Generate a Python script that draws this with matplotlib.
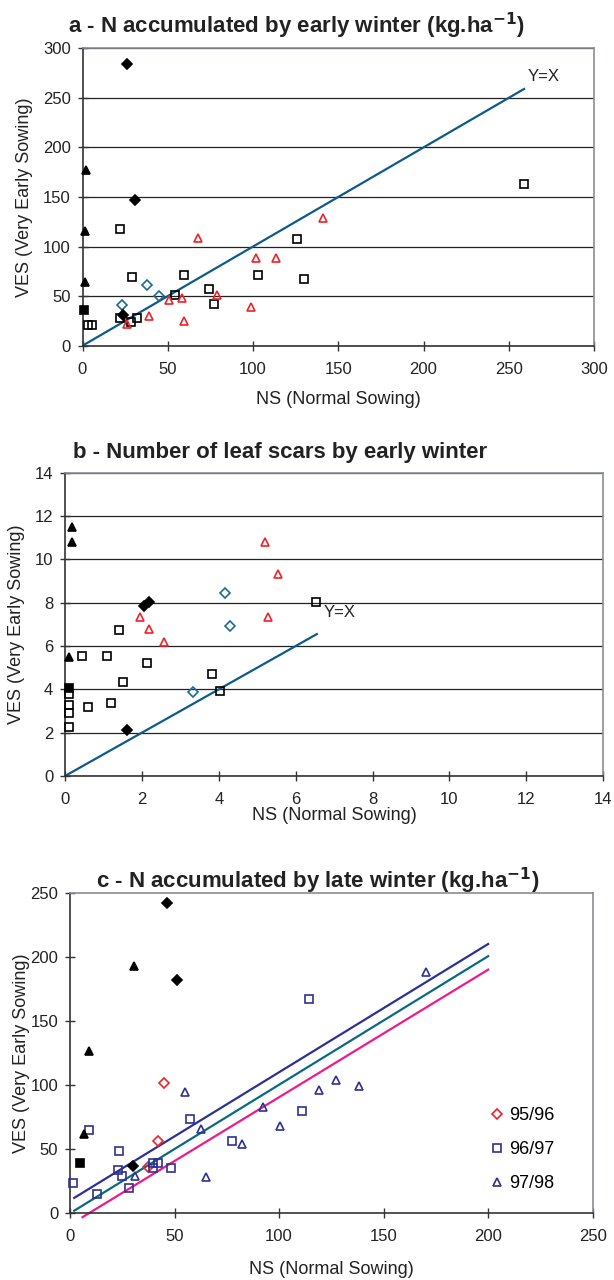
import matplotlib
matplotlib.use('Agg')
import matplotlib.pyplot as plt
import numpy as np

plt.rcParams['font.family'] = ['Liberation Sans', 'DejaVu Sans']

# ---- panel a : N accumulated by early winter ----
a_fdiam_x = [26, 30.5, 24]
a_fdiam_y = [284, 147, 31]
a_ftri_x = [2, 1.5, 1.5]
a_ftri_y = [177, 116, 64]
a_fsq_x = [0.8]
a_fsq_y = [36]
a_sq_x = [21.8, 29.2, 59.3, 74.3, 77.2, 54.2, 22, 28.2, 31.7, 3.4, 5.4, 103, 126, 130, 259]
a_sq_y = [117.5, 69.4, 71.4, 57, 42.4, 50.9, 28.3, 24.3, 28.3, 21, 21, 71.4, 107.8, 67.7, 163.6]
a_rtri_x = [67.7, 101.5, 50.5, 58.1, 78.7, 39, 59.5, 26, 98.6, 113.4, 140.8]
a_rtri_y = [108.5, 88.5, 46, 48, 51, 30, 25, 21.8, 39.2, 88.5, 129]
a_bdiam_x = [23.2, 38, 44.8]
a_bdiam_y = [41.1, 61.3, 50.2]
a_yx = [0, 259]

# ---- panel b : number of leaf scars ----
b_ftri_x = [0.19, 0.19, 0.1]
b_ftri_y = [11.48, 10.82, 5.49]
b_fsq_x = [0.1]
b_fsq_y = [4.05]
b_fdiam_x = [2.06, 2.19, 1.6]
b_fdiam_y = [7.86, 8.05, 2.14]
b_sq_x = [1.40, 0.44, 1.08, 2.13, 1.51, 3.82, 4.02, 0.1, 0.1, 0.1, 0.1, 0.61, 1.2, 6.54]
b_sq_y = [6.73, 5.52, 5.52, 5.23, 4.32, 4.72, 3.94, 3.79, 3.28, 2.89, 2.28, 3.19, 3.38, 8.03]
b_rtri_x = [1.95, 2.19, 2.57, 5.2, 5.55, 5.29]
b_rtri_y = [7.36, 6.79, 6.17, 10.82, 9.34, 7.36]
b_bdiam_x = [4.16, 4.29, 3.32]
b_bdiam_y = [8.45, 6.91, 3.86]
b_yx = [0, 6.55]

# ---- panel c : N accumulated by late winter ----
c_fdiam_x = [46.4, 51.3, 30]
c_fdiam_y = [242, 182, 36.6]
c_ftri_x = [30.5, 9.3, 6.7]
c_ftri_y = [193, 126.5, 61.5]
c_fsq_x = [4.8]
c_fsq_y = [39]
c_9596_x = [45.1, 42.3, 37.2]
c_9596_y = [101.3, 56.3, 36.3]
c_9697_x = [9.25, 23.6, 23.1, 24.7, 28.2, 12.8, 1.6, 39.6, 42, 39.6, 48.2, 57.4, 77.5, 114.5, 111]
c_9697_y = [64.9, 48.8, 33.7, 29.1, 19.7, 15, 23.4, 39, 39.5, 35, 35, 73.3, 56.6, 166.8, 79.7]
c_9798_x = [55.2, 62.7, 82.4, 64.9, 31.1, 170.5, 127, 119.1, 138.1, 92.2, 100.5]
c_9798_y = [94.8, 65.5, 54, 28.3, 29.3, 187.8, 103.9, 96.4, 99, 83.1, 68]
c_fit_navy_x = [2, 200]
c_fit_navy_y = [12, 210]
c_fit_teal_x = [2, 200]
c_fit_teal_y = [2, 200.5]
c_fit_pink_x = [6, 200]
c_fit_pink_y = [-3, 190]

RED = '#ee2229'
BLUE = '#1b6a98'
YX = '#0d5b86'
NAVY = '#2e3192'
TEAL = '#0b6a80'
PINK = '#ec1c8c'

W, H = 614, 1280


def add_ax(fig, l, t, r, b):
    return fig.add_axes([l / W, 1 - b / H, (r - l) / W, (b - t) / H])


def style(ax, xmax, ymax, xstep, ystep, grid):
    ax.set_xlim(0, xmax)
    ax.set_ylim(0, ymax)
    ax.set_xticks(np.arange(0, xmax + xstep / 2, xstep))
    ax.set_yticks(np.arange(0, ymax + ystep / 2, ystep))
    ax.tick_params(direction='inout', length=7, width=1, colors='#333333',
                   labelsize=12, labelcolor='#222222')
    ax.tick_params(axis='x', pad=8)
    ax.tick_params(axis='y', pad=5)
    for s in ['left', 'bottom']:
        ax.spines[s].set_color('#333333')
        ax.spines[s].set_linewidth(1.2)
    for s in ['top', 'right']:
        ax.spines[s].set_color('#8a8f96')
        ax.spines[s].set_linewidth(1.2)
    if grid:
        ax.yaxis.grid(True, color='#222222', lw=0.9)
        ax.set_axisbelow(True)
    ax.set_xlabel('NS (Normal Sowing)', fontsize=13, color='#222222')


def ylab(fig, x, t, b):
    fig.text(x / W, 1 - (t + b) / 2 / H, 'VES (Very Early Sowing)', rotation=90,
             fontsize=13, color='#222222', ha='center', va='center')


def pts(ax, x, y, m, color, filled, ms=6, label=None):
    ax.plot(x, y, m, ms=ms, mec=color, mew=1.2,
            mfc=color if filled else 'none', ls='none', label=label, clip_on=False,
            zorder=3)


fig = plt.figure(figsize=(W / 100, H / 100), dpi=100)

# panel a
ax = add_ax(fig, 82.5, 48.3, 594, 345.7)
style(ax, 300, 300, 50, 50, True)
ax.plot(a_yx, a_yx, color=YX, lw=1.6, zorder=2)
pts(ax, a_sq_x, a_sq_y, 's', 'black', False)
pts(ax, a_rtri_x, a_rtri_y, '^', RED, False)
pts(ax, a_bdiam_x, a_bdiam_y, 'D', BLUE, False, ms=5)
pts(ax, a_fdiam_x, a_fdiam_y, 'D', 'black', True, ms=5)
pts(ax, a_ftri_x, a_ftri_y, '^', 'black', True)
pts(ax, a_fsq_x, a_fsq_y, 's', 'black', True)
ax.text(261, 272, 'Y=X', fontsize=12, color='#222222', va='center')
ax.xaxis.labelpad = 10
ylab(fig, 25, 48.3, 345.7)
fig.text(68 / W, 1 - 33 / H, 'a - N accumulated by early winter (kg.ha$^{\\mathbf{-1}}$)',
         fontsize=16, fontweight='bold', color='#222222', va='baseline')

# panel b
ax = add_ax(fig, 65, 472.7, 603.3, 776)
style(ax, 14, 14, 2, 2, True)
ax.plot(b_yx, b_yx, color=YX, lw=1.6, zorder=2)
pts(ax, b_sq_x, b_sq_y, 's', 'black', False)
pts(ax, b_rtri_x, b_rtri_y, '^', RED, False)
pts(ax, b_bdiam_x, b_bdiam_y, 'D', BLUE, False, ms=5)
pts(ax, b_fdiam_x, b_fdiam_y, 'D', 'black', True, ms=5)
pts(ax, b_ftri_x, b_ftri_y, '^', 'black', True)
pts(ax, b_fsq_x, b_fsq_y, 's', 'black', True)
ax.text(6.72, 7.56, 'Y=X', fontsize=12, color='#222222', va='center')
ax.xaxis.labelpad = 0
ylab(fig, 17, 472.7, 776)
fig.text(73 / W, 1 - 458 / H, 'b - Number of leaf scars by early winter',
         fontsize=16, fontweight='bold', color='#222222', va='baseline')

# panel c
ax = add_ax(fig, 70, 892.7, 592.7, 1213.3)
style(ax, 250, 250, 50, 50, False)
ax.plot(c_fit_navy_x, c_fit_navy_y, color=NAVY, lw=1.6, zorder=2)
ax.plot(c_fit_teal_x, c_fit_teal_y, color=TEAL, lw=1.6, zorder=2)
ax.plot(c_fit_pink_x, c_fit_pink_y, color=PINK, lw=1.6, zorder=2, clip_on=False)
pts(ax, c_9596_x, c_9596_y, 'D', RED, False, ms=5, label='95/96')
pts(ax, c_9697_x, c_9697_y, 's', NAVY, False, label='96/97')
pts(ax, c_9798_x, c_9798_y, '^', NAVY, False, label='97/98')
pts(ax, c_fdiam_x, c_fdiam_y, 'D', 'black', True, ms=5)
pts(ax, c_ftri_x, c_ftri_y, '^', 'black', True)
pts(ax, c_fsq_x, c_fsq_y, 's', 'black', True)
ax.legend(loc='center left', bbox_to_anchor=(0.803, 0.198), frameon=False,
          fontsize=13, borderpad=0, borderaxespad=0, handlelength=0.8,
          handletextpad=0.25, labelspacing=0.95)
ax.xaxis.labelpad = 12
ylab(fig, 22, 892.7, 1213.3)
fig.text(96 / W, 1 - 888 / H, 'c - N accumulated by late winter (kg.ha$^{\\mathbf{-1}}$)',
         fontsize=16, fontweight='bold', color='#222222', va='baseline')

plt.savefig('out.png', dpi=100)
